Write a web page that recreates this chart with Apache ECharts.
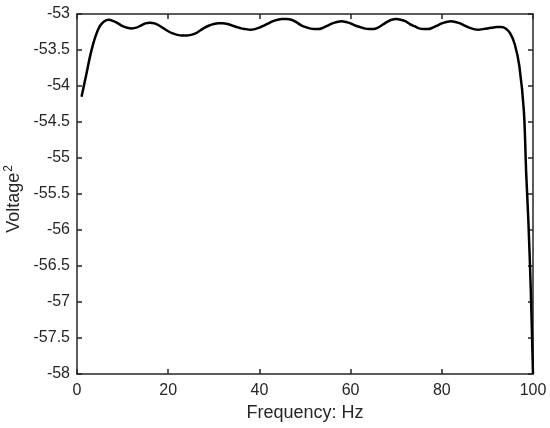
<!DOCTYPE html>
<html>
<head>
<meta charset="utf-8">
<script src="https://cdn.jsdelivr.net/npm/echarts@6/dist/echarts.min.js"></script>
<style>html,body{margin:0;padding:0;background:#fff}#c{width:550px;height:428px}</style>
</head>
<body>
<div id="c"></div>
<script>
const freq = [1,2,3,4,5,6,7,8,9,10,11,12,13,14,15,16,17,18,19,20,21,22,23,24,25,26,27,28,29,30,31,32,33,34,35,36,37,38,39,40,41,42,43,44,45,46,47,48,49,50,51,52,53,54,55,56,57,58,59,60,61,62,63,64,65,66,67,68,69,70,71,72,73,74,75,76,77,78,79,80,81,82,83,84,85,86,87,88,89,90,91,92,93,94,95,96,97,98,98.5,99,99.5,100];
const voltage = [-54.15,-53.85,-53.55,-53.32,-53.17,-53.1,-53.08,-53.1,-53.13,-53.17,-53.19,-53.2,-53.19,-53.16,-53.13,-53.12,-53.13,-53.16,-53.2,-53.24,-53.27,-53.29,-53.3,-53.3,-53.29,-53.27,-53.23,-53.19,-53.16,-53.14,-53.13,-53.13,-53.14,-53.16,-53.18,-53.2,-53.21,-53.22,-53.21,-53.19,-53.16,-53.13,-53.1,-53.08,-53.07,-53.07,-53.08,-53.11,-53.15,-53.18,-53.2,-53.21,-53.21,-53.19,-53.16,-53.13,-53.11,-53.1,-53.11,-53.13,-53.16,-53.18,-53.2,-53.21,-53.21,-53.19,-53.15,-53.11,-53.08,-53.07,-53.08,-53.1,-53.14,-53.17,-53.2,-53.21,-53.21,-53.19,-53.16,-53.13,-53.11,-53.1,-53.11,-53.13,-53.16,-53.19,-53.21,-53.22,-53.21,-53.2,-53.19,-53.18,-53.18,-53.2,-53.27,-53.42,-53.72,-54.35,-55.2,-55.9,-56.8,-58];
const xTicks = [0,20,40,60,80,100];
const yTicks = [-58,-57.5,-57,-56.5,-56,-55.5,-55,-54.5,-54,-53.5,-53];
const xLabel = 'Frequency: Hz';
const yLabel = 'Voltage';

const chart = echarts.init(document.getElementById('c'));
const font = 'Liberation Sans, Arial, Helvetica, sans-serif';
const axisLine = {show:true, onZero:false, lineStyle:{color:'#262626', width:1.5}};
const tick = {show:true, inside:true, length:5, lineStyle:{color:'#262626', width:1.5}};
chart.setOption({
  animation:false,
  grid:{left:77, right:17, top:14, bottom:54, containLabel:false, outerBoundsMode:'none'},
  xAxis:[
    {type:'value', min:xTicks[0], max:xTicks[xTicks.length-1], interval:20, position:'bottom',
     axisLine, axisTick:tick, splitLine:{show:false},
     axisLabel:{color:'#262626', fontSize:16, fontFamily:font, margin:9},
     name:xLabel, nameLocation:'middle', nameGap:28,
     nameTextStyle:{color:'#262626', fontSize:18, fontFamily:font}},
    {type:'value', min:xTicks[0], max:xTicks[xTicks.length-1], interval:20, position:'top',
     axisLine, axisTick:tick, splitLine:{show:false}, axisLabel:{show:false}}
  ],
  yAxis:[
    {type:'value', min:yTicks[0], max:yTicks[yTicks.length-1], interval:0.5, position:'left',
     axisLine, axisTick:tick, splitLine:{show:false},
     axisLabel:{color:'#262626', fontSize:16, fontFamily:font, margin:7},
     name:'{b|' + yLabel + '}{s|2}', nameLocation:'middle', nameGap:41, nameRotate:90,
     nameTextStyle:{color:'#262626', fontFamily:font, padding:[0,10,0,0],
       rich:{b:{fontSize:18, fontFamily:font, color:'#262626'},
             s:{fontSize:12, fontFamily:font, color:'#262626', padding:[0,0,10,1]}}}},
    {type:'value', min:yTicks[0], max:yTicks[yTicks.length-1], interval:0.5, position:'right',
     axisLine, axisTick:tick, splitLine:{show:false}, axisLabel:{show:false}}
  ],
  series:[{
    type:'line', data:freq.map((f,i)=>[f, voltage[i]]), showSymbol:false, smooth:0.3,
    lineStyle:{color:'#000', width:2.5}, clip:true
  }]
});
</script>
</body>
</html>
